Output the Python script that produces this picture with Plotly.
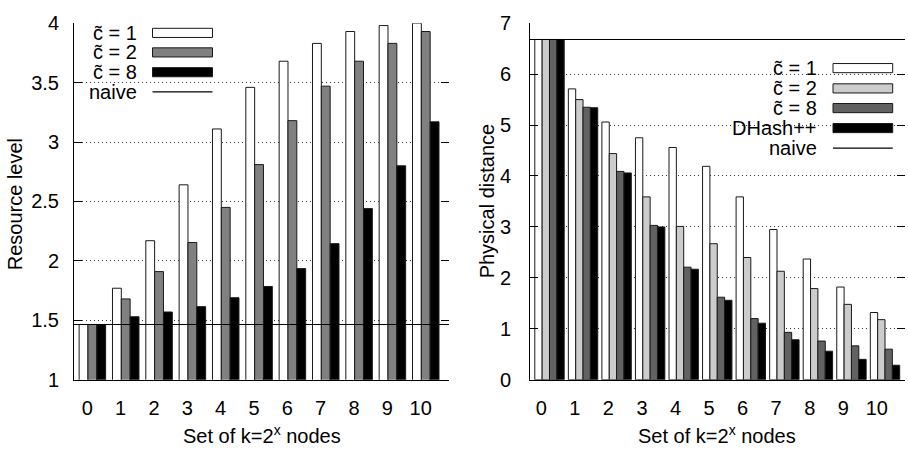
import plotly.graph_objects as go

# ---- data -------------------------------------------------------------
groups = list(range(11))
group_labels = [str(g) for g in groups]

# Resource level (left panel)
res_c1 = [1.465, 1.77, 2.17, 2.64, 3.11, 3.46, 3.68, 3.83, 3.93, 3.98, 4.00]
res_c2 = [1.465, 1.68, 1.91, 2.155, 2.45, 2.81, 3.18, 3.47, 3.68, 3.83, 3.93]
res_c8 = [1.465, 1.53, 1.57, 1.615, 1.69, 1.785, 1.935, 2.145, 2.44, 2.80, 3.17]
res_naive = 1.465

# Physical distance (right panel)
dist_c1 = [6.68, 5.71, 5.06, 4.75, 4.56, 4.19, 3.59, 2.95, 2.37, 1.82, 1.32]
dist_c2 = [6.68, 5.50, 4.44, 3.59, 3.01, 2.67, 2.40, 2.13, 1.79, 1.48, 1.18]
dist_c8 = [6.68, 5.35, 4.09, 3.03, 2.21, 1.62, 1.20, 0.93, 0.76, 0.665, 0.60]
dist_dhash = [6.68, 5.34, 4.06, 3.00, 2.17, 1.56, 1.11, 0.785, 0.56, 0.40, 0.285]
dist_naive = 6.68

series_names_left = ["c\u0303 = 1", "c\u0303 = 2", "c\u0303 = 8"]
series_names_right = ["c\u0303 = 1", "c\u0303 = 2", "c\u0303 = 8", "DHash++"]

# ---- styling ------------------------------------------------------------
W, H = 908, 457
FONT = "Liberation Sans, Arial, Helvetica, sans-serif"
FS = 20
OUTLINE = "#1a1a1a"
left_colors = ["#ffffff", "#808080", "#000000"]
right_colors = ["#ffffff", "#cccccc", "#626262", "#000000"]


def px(xp):
    return xp / W


def py(yp):
    return 1 - yp / H


y_dom = [py(387.4), py(12.8)]
left_dom = [px(74), px(449)]
right_dom = [px(530), px(905)]

fig = go.Figure()

# left panel bars
lw, loff0 = 0.265, -0.245
for j, (vals, col, name) in enumerate(zip([res_c1, res_c2, res_c8], left_colors, series_names_left)):
    fig.add_trace(go.Bar(
        x=groups, y=vals, width=lw, offset=loff0 + j * lw,
        marker=dict(color=col, line=dict(color=OUTLINE, width=1)),
        name=name, showlegend=False, xaxis="x", yaxis="y"))

# right panel bars
rw, roff0 = 0.219, -0.194
for j, (vals, col, name) in enumerate(zip([dist_c1, dist_c2, dist_c8, dist_dhash], right_colors, series_names_right)):
    fig.add_trace(go.Bar(
        x=groups, y=vals, width=rw, offset=roff0 + j * rw,
        marker=dict(color=col, line=dict(color=OUTLINE, width=1)),
        name=name, showlegend=False, xaxis="x2", yaxis="y2"))

axis_common = dict(showgrid=False, zeroline=False, showline=True, linecolor="black",
                   linewidth=1, tickfont=dict(family=FONT, size=FS, color="black"))
grid = dict(showgrid=True, gridcolor="#3a3a3a", gridwidth=1, griddash="1px,3px")

fig.update_layout(
    width=W, height=H, margin=dict(l=0, r=0, t=0, b=0),
    paper_bgcolor="white", plot_bgcolor="white",
    font=dict(family=FONT, size=FS, color="black"),
    barmode="overlay", showlegend=False,
    xaxis=dict(domain=left_dom, range=[-0.399, 10.85], anchor="y",
               tickvals=groups, ticktext=group_labels, ticks="", ticklabelstandoff=10,
               **axis_common),
    yaxis=dict(domain=y_dom, range=[1, 4], anchor="x",
               tickvals=[1, 1.5, 2, 2.5, 3, 3.5, 4],
               ticktext=["1", "1.5", "2", "2.5", "3", "3.5", "4"],
               ticks="inside", ticklen=8, tickcolor="black", ticklabelstandoff=10,
               **{**axis_common, **grid}),
    yaxis3=dict(overlaying="y", side="right", anchor="x", range=[1, 4],
                tickvals=[1, 1.5, 2, 2.5, 3, 3.5, 4], ticks="inside", ticklen=8,
                tickcolor="black", showticklabels=False, showline=False,
                showgrid=False, zeroline=False),
    xaxis2=dict(domain=right_dom, range=[-0.337, 10.84], anchor="y2",
                tickvals=groups, ticktext=group_labels, ticks="", ticklabelstandoff=10,
                **axis_common),
    yaxis2=dict(domain=y_dom, range=[0, 7], anchor="x2",
                tickvals=list(range(8)), ticktext=[str(v) for v in range(8)],
                ticks="inside", ticklen=8, tickcolor="black", ticklabelstandoff=14,
                **{**axis_common, **grid}),
    yaxis4=dict(overlaying="y2", side="right", anchor="x2", range=[0, 7],
                tickvals=list(range(8)), ticks="inside", ticklen=8,
                tickcolor="black", showticklabels=False, showline=False,
                showgrid=False, zeroline=False),
)

# invisible traces so the mirrored tick axes are drawn
fig.add_trace(go.Scatter(x=[0], y=[1], xaxis="x", yaxis="y3", mode="markers",
                         marker=dict(opacity=0), hoverinfo="skip", showlegend=False))
fig.add_trace(go.Scatter(x=[0], y=[0], xaxis="x2", yaxis="y4", mode="markers",
                         marker=dict(opacity=0), hoverinfo="skip", showlegend=False))

shapes = []
annotations = []

# naive reference lines
shapes.append(dict(type="line", xref="x domain", yref="y", x0=0, x1=1,
                   y0=res_naive, y1=res_naive, line=dict(color="black", width=1.2), layer="above"))
shapes.append(dict(type="line", xref="x2 domain", yref="y2", x0=0, x1=1,
                   y0=dist_naive, y1=dist_naive, line=dict(color="black", width=1.2), layer="above"))


def key_block(box, text_right, sample_x, rows, labels, fills):
    # white panel that hides the grid behind the key
    shapes.append(dict(type="rect", xref="paper", yref="paper",
                       x0=px(box[0]), x1=px(box[1]), y0=py(box[3]), y1=py(box[2]),
                       fillcolor="white", line=dict(width=0), layer="between"))
    for yc, lab, fill in zip(rows, labels, fills):
        annotations.append(dict(xref="paper", yref="paper", x=px(text_right), y=py(yc),
                                text=lab, showarrow=False, xanchor="right", yanchor="middle",
                                font=dict(family=FONT, size=FS, color="black")))
        if fill is None:
            shapes.append(dict(type="line", xref="paper", yref="paper",
                               x0=px(sample_x[0]), x1=px(sample_x[1]), y0=py(yc), y1=py(yc),
                               line=dict(color="black", width=1.2), layer="above"))
        else:
            shapes.append(dict(type="rect", xref="paper", yref="paper",
                               x0=px(sample_x[0]), x1=px(sample_x[1]),
                               y0=py(yc + 4.8), y1=py(yc - 4.8),
                               fillcolor=fill, line=dict(color=OUTLINE, width=1), layer="above"))


key_block(box=(84, 222, 14, 96), text_right=138.5, sample_x=(152.5, 212.5),
          rows=[23, 43.5, 64.3, 85], labels=series_names_left + ["naive"],
          fills=left_colors + [None])
key_block(box=(733, 905, 46, 156), text_right=818.5, sample_x=(833, 892.7),
          rows=[60, 81.3, 102, 123, 144], labels=series_names_right + ["naive"],
          fills=right_colors + [None])

# axis titles
annotations.append(dict(xref="paper", yref="paper", x=px(15), y=py(203), text="Resource level",
                        textangle=-90, showarrow=False, xanchor="center", yanchor="middle",
                        font=dict(family=FONT, size=FS, color="black")))
annotations.append(dict(xref="paper", yref="paper", x=px(487), y=py(200), text="Physical distance",
                        textangle=-90, showarrow=False, xanchor="center", yanchor="middle",
                        font=dict(family=FONT, size=FS, color="black")))
annotations.append(dict(xref="paper", yref="paper", x=px(261.5), y=py(445),
                        text="Set of k=2<sup>x</sup> nodes", showarrow=False,
                        xanchor="center", yanchor="middle",
                        font=dict(family=FONT, size=FS, color="black")))
annotations.append(dict(xref="paper", yref="paper", x=px(717), y=py(445),
                        text="Set of k=2<sup>x</sup> nodes", showarrow=False,
                        xanchor="center", yanchor="middle",
                        font=dict(family=FONT, size=FS, color="black")))

fig.update_layout(shapes=shapes, annotations=annotations)
fig.write_html("out.html")
